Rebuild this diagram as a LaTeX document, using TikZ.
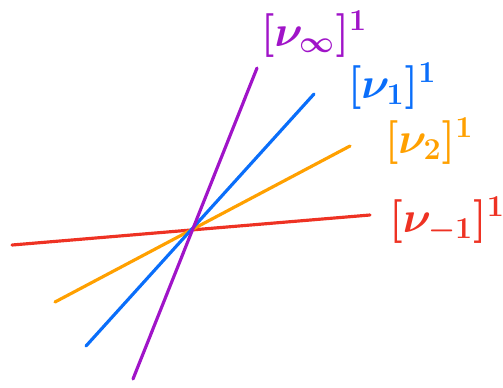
\documentclass[tikz,border=0pt]{standalone}
\usepackage{amsmath,amssymb}
\usetikzlibrary{calc}

\definecolor{linepurple}{RGB}{160,20,200}
\definecolor{lineblue}{RGB}{10,110,250}
\definecolor{lineorange}{RGB}{255,160,0}
\definecolor{linered}{RGB}{238,50,35}

\tikzset{
  pencil/.style={line width=1.8pt, line cap=round},
  tag/.style={font=\fontsize{25}{30}\selectfont\boldmath, inner sep=0pt}
}

\begin{document}
\begin{tikzpicture}[x=0.02cm, y=-0.02cm]
  \useasboundingbox (0,0) rectangle (503,387);

  % end points of the four lines
  \coordinate (inf0) at (133,379);
  \coordinate (inf1) at (257,68);
  \coordinate (one0) at (86,346);
  \coordinate (one1) at (314,94);
  \coordinate (two0) at (55,302);
  \coordinate (two1) at (350,146);
  \coordinate (neg0) at (12,245);
  \coordinate (neg1) at (370,215);

  \draw[pencil, linered] (neg0) -- (neg1);
  \draw[pencil, lineorange] (two0) -- (two1);
  \draw[pencil, lineblue] (one0) -- (one1);
  \draw[pencil, linepurple] (inf0) -- (inf1);

  % labels
  \node[tag, text=linepurple] (linf) at (314,34) {$[\nu_\infty]^1$};
  \node[tag, text=lineblue] (lone) at (392,86) {$[\nu_1]^1$};
  \node[tag, text=lineorange] (ltwo) at (429,141) {$[\nu_2]^1$};
  \node[tag, text=linered] (lneg) at (447,220) {$[\nu_{-1}]^1$};
\end{tikzpicture}
\end{document}
